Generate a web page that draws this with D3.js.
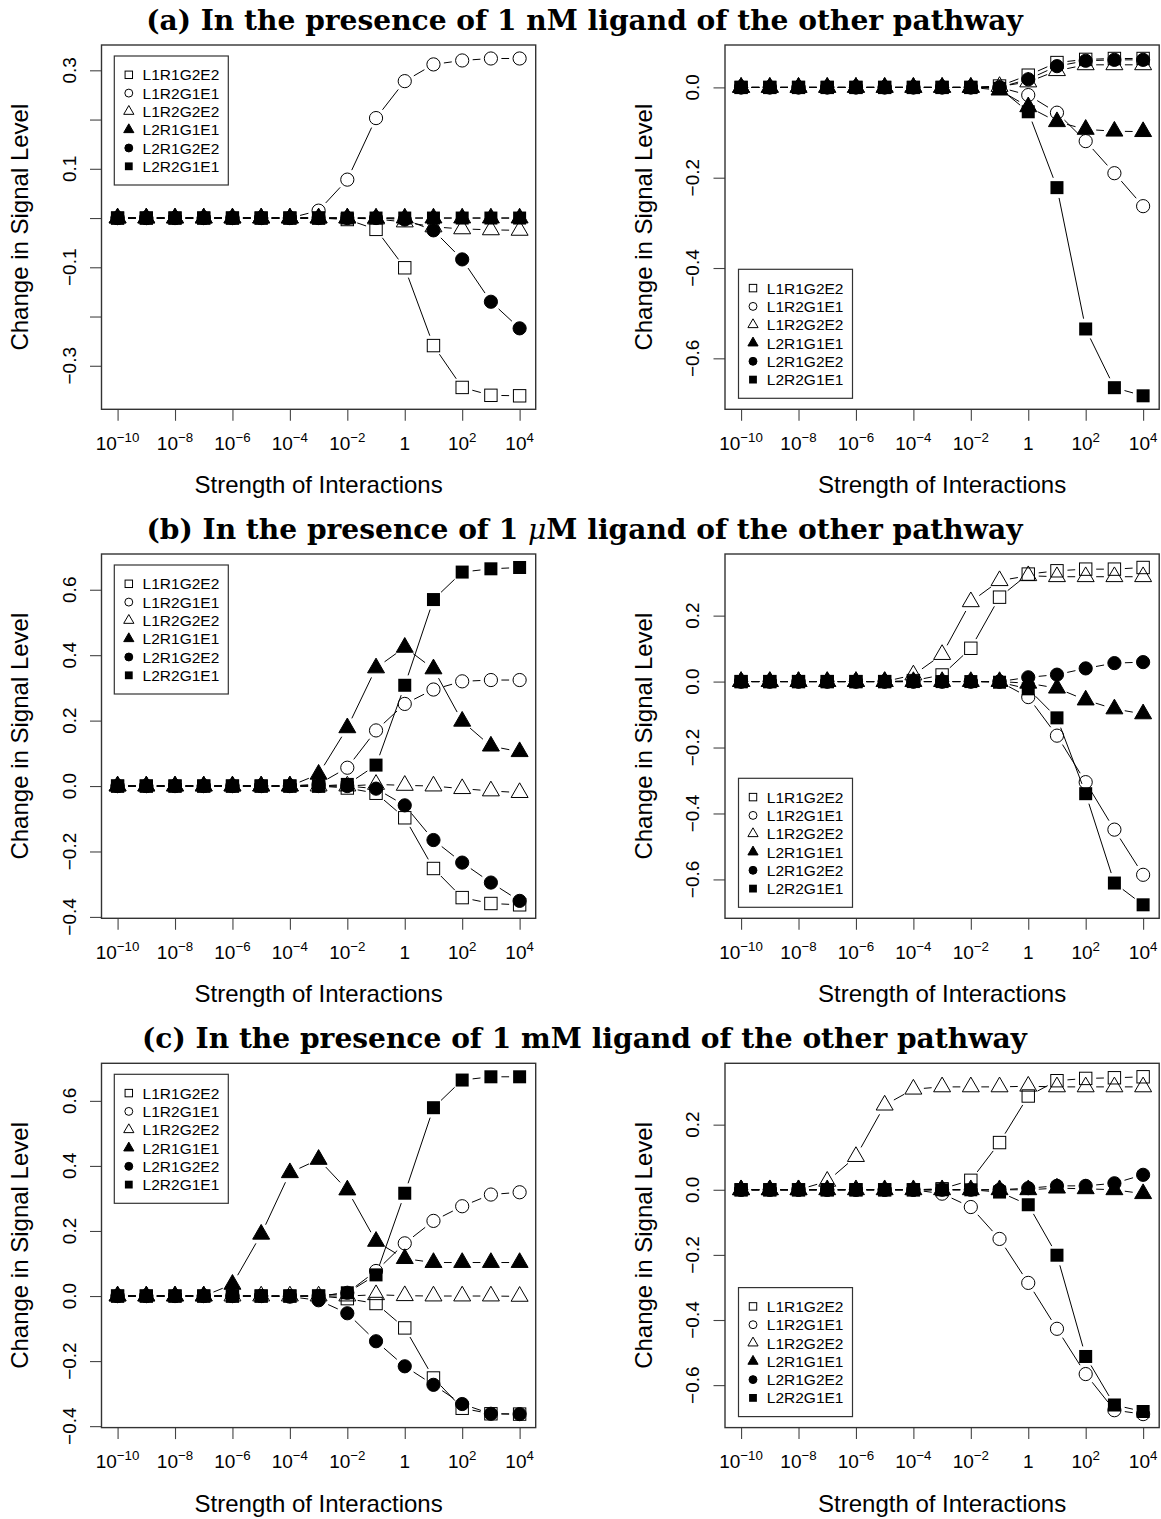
<!DOCTYPE html>
<html><head><meta charset="utf-8">
<script src="https://cdn.jsdelivr.net/npm/d3@7"></script>
<style>body{margin:0;background:#fff}</style>
</head><body><svg id="c" width="1161" height="1519" xmlns="http://www.w3.org/2000/svg"></svg>
<script>
// ---------------- data ----------------
const xExponents = [-10,-9,-8,-7,-6,-5,-4,-3,-2,-1,0,1,2,3,4];
const xValues = xExponents.map(e => Math.pow(10, e));
const xTickExponents = [-10,-8,-6,-4,-2,0,2,4];
const seriesNames = ["L1R1G2E2","L1R2G1E1","L1R2G2E2","L2R1G1E1","L2R1G2E2","L2R2G1E1"];
const seriesShapes = ["square","circle","triangle","triangle","circle","square"];
const seriesFilled = [false,false,false,true,true,true];
const rowTitlesPre = ["(a) In the presence of 1 n", "(b) In the presence of 1 ", "(c) In the presence of 1 m"];
const rowTitlesMu = ["", "\u03bc", ""];
const rowTitlesPost = ["M ligand of the other pathway", "M ligand of the other pathway", "M ligand of the other pathway"];
const xAxisTitle = "Strength of Interactions";
const yAxisTitle = "Change in Signal Level";

// (a) 1 nM, left panel
const panelA1 = [
  [0,0,0,0,0,0,0,0,-0.003,-0.023,-0.101,-0.259,-0.344,-0.360,-0.361],
  [0,0,0,0,0,0,0,0.015,0.078,0.203,0.278,0.312,0.320,0.324,0.324],
  [0,0,0,0,0,0,0,0,0,-0.002,-0.008,-0.018,-0.022,-0.024,-0.025],
  [0,0,0,0,0,0,0,0,0,0,0,0,0,0,0],
  [0,0,0,0,0,0,0,0,0,0,-0.003,-0.025,-0.084,-0.170,-0.224],
  [0,0,0,0,0,0,0,0,0,0,0,0,0,0,0]
];
// (a) 1 nM, right panel
const panelA2 = [
  [0,0,0,0,0,0,0,0,0,0.003,0.027,0.055,0.062,0.064,0.064],
  [0,0,0,0,0,0,0,0,0,0,-0.017,-0.056,-0.119,-0.190,-0.263],
  [0,0,0,0,0,0,0,0,0,0.002,0.012,0.037,0.050,0.050,0.050],
  [0,0,0,0,0,0,0,0,0,-0.006,-0.043,-0.076,-0.093,-0.097,-0.098],
  [0,0,0,0,0,0,0,0,0,0,0.018,0.047,0.059,0.061,0.061],
  [0,0,0,0,0,0,0,0,0,-0.002,-0.054,-0.222,-0.535,-0.665,-0.683]
];
// (b) 1 uM, left panel
const panelB1 = [
  [0,0,0,0,0,0,0,0,-0.006,-0.022,-0.097,-0.252,-0.341,-0.359,-0.363],
  [0,0,0,0,0,0,0,0.006,0.056,0.170,0.251,0.295,0.320,0.324,0.324],
  [0,0,0,0,0,0,0,0,0,0.005,0.002,0.000,-0.008,-0.015,-0.020],
  [0,0,0,0,0,0,0,0.036,0.178,0.361,0.424,0.358,0.198,0.122,0.105],
  [0,0,0,0,0,0,0,0,0,-0.008,-0.059,-0.165,-0.234,-0.295,-0.351],
  [0,0,0,0,0,0,0,0,0.005,0.064,0.308,0.570,0.654,0.664,0.668]
];
// (b) 1 uM, right panel
const panelB2 = [
  [0,0,0,0,0,0,0.003,0.020,0.101,0.256,0.326,0.336,0.341,0.341,0.346],
  [0,0,0,0,0,0,0,0,0,0,-0.047,-0.164,-0.305,-0.449,-0.586],
  [0,0,0,0,0,0,0.020,0.082,0.242,0.306,0.321,0.318,0.318,0.318,0.318],
  [0,0,0,0,0,0,0,0,0,0,-0.005,-0.020,-0.056,-0.083,-0.098],
  [0,0,0,0,0,0,0,0,0,0,0.013,0.021,0.040,0.056,0.059],
  [0,0,0,0,0,0,0,0,0,-0.002,-0.022,-0.110,-0.340,-0.611,-0.677]
];
// (c) 1 mM, left panel
const panelC1 = [
  [0,0,0,0,0,0,0,0,-0.008,-0.023,-0.098,-0.252,-0.345,-0.362,-0.363],
  [0,0,0,0,0,0,0,0,0.010,0.077,0.162,0.231,0.276,0.312,0.319],
  [0,0,0,0,0,0,0,0,0,0.004,0.001,0,0,0,-0.001],
  [0,0,0,0,0.036,0.190,0.379,0.420,0.326,0.168,0.115,0.103,0.103,0.103,0.103],
  [0,0,0,0,0,0,-0.002,-0.013,-0.053,-0.139,-0.216,-0.273,-0.332,-0.362,-0.363],
  [0,0,0,0,0,0,0,0,0.010,0.065,0.316,0.579,0.664,0.674,0.674]
];
// (c) 1 mM, right panel
const panelC2 = [
  [0,0,0,0,0,0,0,0.003,0.029,0.145,0.288,0.335,0.342,0.344,0.347],
  [0,0,0,0,0,0,0,-0.012,-0.053,-0.151,-0.286,-0.427,-0.566,-0.677,-0.689],
  [0,0,0,0.026,0.102,0.260,0.309,0.316,0.316,0.316,0.318,0.316,0.316,0.316,0.316],
  [0,0,0,0,0,0,0,0,0,0,0,0.005,0.003,0,-0.012],
  [0,0,0,0,0,0,0,0,0,0,0.005,0.012,0.012,0.020,0.046],
  [0,0,0,0,0,0,0,0,0,-0.007,-0.046,-0.201,-0.512,-0.661,-0.681]
];
// y ticks / labels per panel
const yTicksA1 = [-0.3,-0.2,-0.1,0,0.1,0.2,0.3];
const yLabelsA1 = [-0.3,-0.1,0.1,0.3];
const yTicksA2 = [-0.6,-0.4,-0.2,0];
const yLabelsA2 = [-0.6,-0.4,-0.2,0];
const yTicksB1 = [-0.4,-0.2,0,0.2,0.4,0.6];
const yLabelsB1 = [-0.4,-0.2,0,0.2,0.4,0.6];
const yTicksB2 = [-0.6,-0.4,-0.2,0,0.2];
const yLabelsB2 = [-0.6,-0.4,-0.2,0,0.2];
const yTicksC1 = [-0.4,-0.2,0,0.2,0.4,0.6];
const yLabelsC1 = [-0.4,-0.2,0,0.2,0.4,0.6];
const yTicksC2 = [-0.6,-0.4,-0.2,0,0.2];
const yLabelsC2 = [-0.6,-0.4,-0.2,0,0.2];

// ---------------- layout ----------------
const colLeft = [101.5, 725];
const plotW = 434.2;
const rowTop = [45, 554, 1063.3];
const plotH = 364.3;
const SANS = "'Liberation Sans', Arial, Helvetica, sans-serif";
const svg = d3.select("#c");

function symbol(g, shape, filled, cx, cy, s) {
  if (shape === "square") {
    const h = (filled ? 6.5 : 6.2) * s;
    g.append("rect").attr("x", cx - h).attr("y", cy - h).attr("width", 2*h).attr("height", 2*h)
      .attr("fill", filled ? "#000" : "none").attr("stroke", filled ? "none" : "#000").attr("stroke-width", 1);
  } else if (shape === "circle") {
    g.append("circle").attr("cx", cx).attr("cy", cy).attr("r", 6.6 * s)
      .attr("fill", filled ? "#000" : "none").attr("stroke", "#000").attr("stroke-width", 1);
  } else {
    const R = 6.3 * s;
    const pts = [[cx, cy - 1.5551*R], [cx + 1.3468*R, cy + 0.7776*R], [cx - 1.3468*R, cy + 0.7776*R]];
    g.append("polygon").attr("points", pts.map(p => p.join(",")).join(" "))
      .attr("fill", filled ? "#000" : "none").attr("stroke", "#000").attr("stroke-width", 1)
      .attr("stroke-linejoin", "miter");
  }
}

function fmt(v) {
  const s = (Math.abs(v) < 1e-9 ? 0 : v).toFixed(1);
  return s.replace("-", "\u2212");
}

function drawPanel(data, yTicks, yLabels, col, row, legendTop) {
  const left = colLeft[col], top = rowTop[row];
  const right = left + plotW, bottom = top + plotH;
  const x = d3.scaleLog().domain([Math.pow(10, -10.56), Math.pow(10, 4.56)]).range([left, right]);
  const all = data.flat();
  const mn = d3.min(all), mx = d3.max(all), r = mx - mn;
  const y = d3.scaleLinear().domain([mn - 0.04*r, mx + 0.04*r]).range([bottom, top]);
  const g = svg.append("g");

  // x axis
  const xa = g.append("g").attr("transform", `translate(0,${bottom})`)
    .call(d3.axisBottom(x).tickValues(xTickExponents.map(e => Math.pow(10, e))).tickSize(11.5).tickFormat(() => ""));
  xa.select(".domain").remove();
  xa.selectAll(".tick line").attr("stroke", "#444").attr("stroke-width", 1.1);
  xTickExponents.forEach(e => {
    const t = g.append("text").attr("x", x(Math.pow(10, e))).attr("y", bottom + 40.5)
      .attr("text-anchor", "middle").attr("font-family", SANS).attr("font-size", 19).attr("fill", "#000");
    if (e === 0) { t.text("1"); }
    else {
      t.append("tspan").text("10");
      t.append("tspan").attr("dy", -8).attr("font-size", 13.3).text(e < 0 ? "\u2212" + (-e) : String(e));
    }
  });
  // y axis
  const ya = g.append("g").attr("transform", `translate(${left},0)`)
    .call(d3.axisLeft(y).tickValues(yTicks).tickSize(11.5).tickFormat(() => ""));
  ya.select(".domain").remove();
  ya.selectAll(".tick line").attr("stroke", "#444").attr("stroke-width", 1.1);
  yLabels.forEach(v => {
    g.append("text").attr("transform", `translate(${left - 26},${y(v)}) rotate(-90)`)
      .attr("text-anchor", "middle").attr("font-family", SANS).attr("font-size", 19).attr("fill", "#000")
      .text(fmt(v));
  });
  // box
  g.append("rect").attr("x", left).attr("y", top).attr("width", plotW).attr("height", plotH)
    .attr("fill", "none").attr("stroke", "#333").attr("stroke-width", 1.4);
  // axis titles
  g.append("text").attr("x", (left + right) / 2).attr("y", bottom + 84).attr("text-anchor", "middle")
    .attr("font-family", SANS).attr("font-size", 24).attr("fill", "#000").text(xAxisTitle);
  g.append("text").attr("transform", `translate(${left - 73.5},${(top + bottom) / 2}) rotate(-90)`)
    .attr("text-anchor", "middle").attr("font-family", SANS).attr("font-size", 24).attr("fill", "#000").text(yAxisTitle);

  // series (type = "b": lines with gaps around points)
  const gap = 10.5;
  data.forEach((vals, si) => {
    const pts = vals.map((v, i) => [x(xValues[i]), y(v)]);
    const lg = g.append("g");
    for (let i = 0; i < pts.length - 1; i++) {
      const [x0, y0] = pts[i], [x1, y1] = pts[i + 1];
      const dx = x1 - x0, dy = y1 - y0, L = Math.hypot(dx, dy);
      if (L <= 2 * gap) continue;
      const ux = dx / L, uy = dy / L;
      lg.append("line").attr("x1", x0 + ux*gap).attr("y1", y0 + uy*gap)
        .attr("x2", x1 - ux*gap).attr("y2", y1 - uy*gap).attr("stroke", "#000").attr("stroke-width", 1);
    }
    pts.forEach(p => symbol(g, seriesShapes[si], seriesFilled[si], p[0], p[1], 1));
  });

  // legend
  const lx = left + (col === 0 ? 12.8 : 13.5);
  const lw = 114, lh = 129;
  const ly = legendTop ? top + 11 : bottom - 11 - lh;
  g.append("rect").attr("x", lx).attr("y", ly).attr("width", lw).attr("height", lh)
    .attr("fill", "#fff").attr("stroke", "#333").attr("stroke-width", 1.2);
  seriesNames.forEach((nm, i) => {
    const cy = ly + 18.8 + i * 18.3;
    symbol(g, seriesShapes[i], seriesFilled[i], lx + 14.5, cy, 0.6);
    g.append("text").attr("x", lx + 28.3).attr("y", cy + 5.5).attr("font-family", SANS)
      .attr("font-size", 15.5).attr("fill", "#000").text(nm);
  });
}

drawPanel(panelA1, yTicksA1, yLabelsA1, 0, 0, true);
drawPanel(panelA2, yTicksA2, yLabelsA2, 1, 0, false);
drawPanel(panelB1, yTicksB1, yLabelsB1, 0, 1, true);
drawPanel(panelB2, yTicksB2, yLabelsB2, 1, 1, false);
drawPanel(panelC1, yTicksC1, yLabelsC1, 0, 2, true);
drawPanel(panelC2, yTicksC2, yLabelsC2, 1, 2, false);

// row titles
const titleTargetW = 877;
const titleNodes = [];
[0, 1, 2].forEach(r => {
  const t = svg.append("text").attr("x", 584.5).attr("y", 30 + 509 * r).attr("text-anchor", "middle")
    .attr("font-family", "'DejaVu Serif', serif").attr("font-weight", "bold").attr("font-size", 26).attr("fill", "#000");
  t.append("tspan").text(rowTitlesPre[r]);
  if (rowTitlesMu[r]) t.append("tspan").attr("font-style", "italic").attr("font-weight", "normal").text(rowTitlesMu[r]);
  t.append("tspan").text(rowTitlesPost[r]);
  titleNodes.push(t);
});
const w0 = titleNodes[0].node().getComputedTextLength();
const fs = 26 * titleTargetW / w0;
titleNodes.forEach(t => t.attr("font-size", fs));
</script></body></html>
